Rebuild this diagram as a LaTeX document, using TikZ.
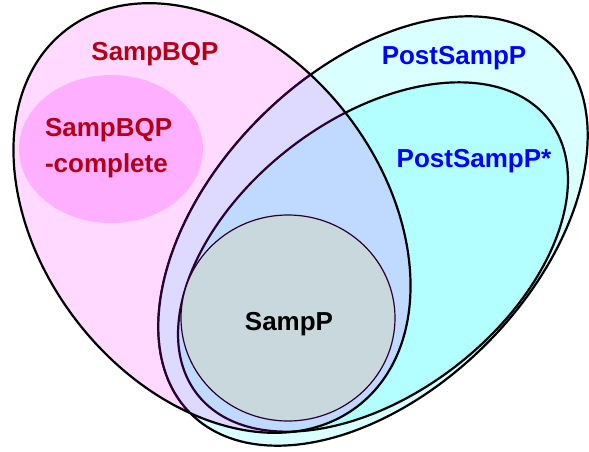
\documentclass[tikz,border=0pt]{standalone}
\usepackage{fontspec}
\setmainfont{Liberation Sans}
\begin{document}
\begin{tikzpicture}[x=1pt,y=1pt]
\definecolor{fillColor}{RGB}{255,255,255}
\path[use as bounding box,fill=fillColor] (0,0) rectangle (589,451);
\definecolor{drawColor}{RGB}{0,0,0}
\definecolor{pinkFill}{RGB}{255,217,255}
\definecolor{magentaFill}{RGB}{255,175,255}
\definecolor{lavenderFill}{RGB}{221,217,255}
\definecolor{cyanOuter}{RGB}{217,255,255}
\definecolor{cyanInner}{RGB}{179,255,255}
\definecolor{blueFill}{RGB}{191,217,255}
\definecolor{grayFill}{RGB}{201,216,220}
\definecolor{circColor}{RGB}{42,0,48}
\definecolor{redText}{RGB}{178,0,24}
\definecolor{blueText}{RGB}{0,0,255}

% region fills
\path[fill=pinkFill] (212,233) ellipse [x radius=238, y radius=170, rotate=-52];
\path[fill=cyanOuter,draw=drawColor,line width=2.2pt] (373,220) ellipse [x radius=258, y radius=160, rotate=45];
\path[fill=cyanInner,draw=drawColor,line width=2.2pt] (373,194) ellipse [x radius=223, y radius=137, rotate=38];
\begin{scope}
\path[clip] (212,233) ellipse [x radius=238, y radius=170, rotate=-52];
\path[fill=lavenderFill,draw=circColor,line width=2.2pt] (373,220) ellipse [x radius=258, y radius=160, rotate=45];
\path[fill=blueFill,draw=circColor,line width=2.2pt] (373,194) ellipse [x radius=223, y radius=137, rotate=38];
\end{scope}
\path[fill=magentaFill] (111,302) ellipse [x radius=92, y radius=74];

% outlines
\path[draw=drawColor,line width=2.2pt] (212,233) ellipse [x radius=238, y radius=170, rotate=-52];
\path[fill=grayFill,draw=circColor,line width=1.2pt] (288,133) ellipse [x radius=107, y radius=103];

% labels
\node (bqp) [text=redText,anchor=base,inner sep=0pt,outer sep=0pt,font=\fontsize{26}{36}\selectfont\bfseries] at (155,391) {SampBQP};
\node (bqpc) [text=redText,anchor=north west,align=left,inner sep=0pt,outer sep=0pt,font=\fontsize{26}{36}\selectfont\bfseries] at (45,333) {SampBQP\\-complete};
\node (post) [text=blueText,anchor=base,inner sep=0pt,outer sep=0pt,font=\fontsize{26}{36}\selectfont\bfseries] at (454,386) {PostSampP};
\node (poststar) [text=blueText,anchor=base,inner sep=0pt,outer sep=0pt,font=\fontsize{26}{36}\selectfont\bfseries] at (474,284) {PostSampP*};
\node (samp) [text=drawColor,anchor=base,inner sep=0pt,outer sep=0pt,font=\fontsize{26}{36}\selectfont\bfseries] at (289,121) {SampP};
\end{tikzpicture}
\end{document}
